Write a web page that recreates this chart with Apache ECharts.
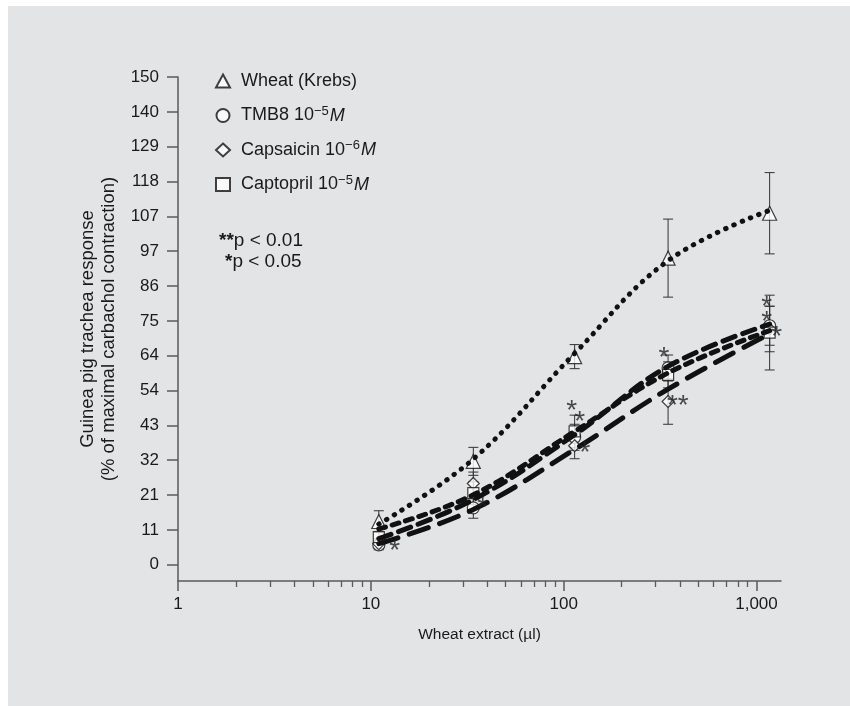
<!DOCTYPE html>
<html>
<head>
<meta charset="utf-8">
<script src="https://cdn.jsdelivr.net/npm/echarts@6/dist/echarts.min.js"></script>
<style>
html, body { margin: 0; padding: 0; background: #fff; }
#panel { position: absolute; left: 8px; top: 6px; width: 842px; height: 700px; background: #e3e4e6; }
#chart { position: absolute; left: 0; top: 0; width: 850px; height: 706px; }
</style>
</head>
<body>
<div id="panel"></div>
<div id="chart"></div>
<script>
// wheat extract doses (µl)
var doses = [11, 34, 114, 348, 1170];

var wheatMean = [13.3, 31.8, 64, 94.3, 108.1];
var wheatErr = [3.3, 4.3, 3.7, 12, 12.5];
var wheatFit = [12.5, 32.5, 65, 93.5, 109];

var tmbMean = [6.1, 17.5, 39.2, 60.5, 73.5];
var tmbErr = [1.5, 3.2, 4, 4, 6];
var tmbFit = [8, 20, 40, 61, 74];

var capsMean = [6.5, 25, 36.6, 50.2, 72.5];
var capsErr = [1.5, 3.5, 4, 7, 7];
var capsFit = [6.5, 17, 35.5, 54, 71];

var captMean = [8.5, 22, 41, 58.4, 71.4];
var captErr = [1.5, 3.5, 5, 4, 11.5];
var captFit = [11, 21.5, 41, 59, 72];

// significance marks
var starX = [13.3, 38, 110, 121, 129, 331, 391, 1130, 1130, 1274];
var starY = [6.8, 20.2, 49.9, 46.6, 37.2, 66.3, 51.5, 82, 77.4, 72.7];
var starText = ['*', '*', '*', '*', '*', '*', '**', '*', '*', '*'];

var xTickValues = [1, 10, 100, 1000];
var xTickLabels = ['1', '10', '100', '1,000'];
var xMinorTicks = [2, 3, 4, 5, 6, 7, 8, 9, 20, 30, 40, 50, 60, 70, 80, 90,
    200, 300, 400, 500, 600, 700, 800, 900];
var yTickLabels = ['0', '11', '21', '32', '43', '54', '64', '75', '86', '97',
    '107', '118', '129', '140', '150'];
var yTickValues = yTickLabels.map(function (l, i) { return i * 150 / 14; });

var legendText = {
    'Wheat (Krebs)': 'Wheat (Krebs)',
    'TMB8': 'TMB8 10{sup|\u22125}{it|M}',
    'Capsaicin': 'Capsaicin 10{sup|\u22126}{it|M}',
    'Captopril': 'Captopril 10{sup|\u22125}{it|M}'
};

var font = '"Liberation Sans", Arial, sans-serif';
var ink = '#1a1a1a';

function pairs(ys) {
    return doses.map(function (d, i) { return [d, ys[i]]; });
}

function errorBars(name, means, errs) {
    return {
        type: 'custom',
        name: name,
        z: 1,
        renderItem: function (params, api) {
            var x = api.value(0), m = api.value(1), e = api.value(2);
            var top = api.coord([x, m + e]);
            var bot = api.coord([x, m - e]);
            var hw = 5;
            var st = { stroke: '#333', lineWidth: 1 };
            return {
                type: 'group',
                children: [
                    { type: 'line', shape: { x1: top[0], y1: top[1], x2: bot[0], y2: bot[1] }, style: st },
                    { type: 'line', shape: { x1: top[0] - hw, y1: top[1], x2: top[0] + hw, y2: top[1] }, style: st },
                    { type: 'line', shape: { x1: bot[0] - hw, y1: bot[1], x2: bot[0] + hw, y2: bot[1] }, style: st }
                ]
            };
        },
        encode: { x: 0, y: 1 },
        data: doses.map(function (d, i) { return [d, means[i], errs[i]]; })
    };
}

function marks(name, symbol, size, means) {
    return {
        type: 'scatter',
        name: name,
        symbol: symbol,
        symbolSize: size,
        z: 2,
        itemStyle: { color: '#fff', borderColor: '#111', borderWidth: 1.2 },
        data: pairs(means)
    };
}

function fit(name, ys, dash) {
    return {
        type: 'line',
        name: name,
        smooth: 0.4,
        symbol: 'none',
        z: 3,
        lineStyle: { color: '#111', width: 5, type: dash, cap: 'round' },
        data: pairs(ys)
    };
}

var myChart = echarts.init(document.getElementById('chart'));

var option = {
    animation: false,
    textStyle: { fontFamily: font },
    grid: { left: 178, right: 69, top: 77, bottom: 125 },
    legend: {
        orient: 'vertical',
        left: 210,
        top: 67,
        itemWidth: 14,
        itemHeight: 13,
        itemGap: 14.5,
        data: [
            { name: 'Wheat (Krebs)', icon: 'triangle' },
            { name: 'TMB8', icon: 'circle' },
            { name: 'Capsaicin', icon: 'diamond' },
            { name: 'Captopril', icon: 'rect' }
        ],
        formatter: function (name) { return legendText[name]; },
        textStyle: {
            fontFamily: font, fontSize: 18, color: ink,
            padding: [0, 0, 0, 6],
            rich: {
                sup: { fontFamily: font, fontSize: 13, color: ink, padding: [0, 1, 9, 0] },
                it: { fontFamily: font, fontSize: 18, color: ink, fontStyle: 'italic' }
            }
        }
    },
    graphic: [
        {
            type: 'text', left: 219, top: 231,
            style: {
                text: '{s|**}p < 0.01', fill: ink, font: '19px ' + font,
                rich: { s: { fontSize: 19, fontWeight: 'bold', fill: ink, fontFamily: font } }
            }
        },
        {
            type: 'text', left: 225, top: 252,
            style: {
                text: '{s|*}p < 0.05', fill: ink, font: '19px ' + font,
                rich: { s: { fontSize: 19, fontWeight: 'bold', fill: ink, fontFamily: font } }
            }
        }
    ],
    xAxis: [
        {
            type: 'log',
            logBase: 10,
            min: 1,
            max: 1340,
            name: 'Wheat extract (\u00b5l)',
            nameLocation: 'middle',
            nameGap: 46,
            nameTextStyle: { fontFamily: font, fontSize: 15.5, color: ink },
            axisLine: { onZero: false, lineStyle: { color: '#5a5a5a', width: 1.5 } },
            axisTick: { customValues: xTickValues, length: 10, lineStyle: { color: '#5a5a5a', width: 1.5 } },
            axisLabel: {
                customValues: xTickValues,
                margin: 15,
                fontFamily: font, fontSize: 17, color: ink,
                formatter: function (v) { return xTickLabels[xTickValues.indexOf(Math.round(v))]; }
            },
            splitLine: { show: false }
        },
        {
            type: 'log',
            logBase: 10,
            min: 1,
            max: 1340,
            position: 'bottom',
            axisLine: { show: false, onZero: false },
            axisTick: { customValues: xMinorTicks, length: 6, lineStyle: { color: '#5a5a5a', width: 1.3 } },
            axisLabel: { show: false },
            splitLine: { show: false }
        }
    ],
    yAxis: {
        type: 'value',
        min: -5,
        max: 150,
        axisLine: { show: true, onZero: false, lineStyle: { color: '#5a5a5a', width: 1.5 } },
        axisTick: { show: true, customValues: yTickValues, length: 11, lineStyle: { color: '#5a5a5a', width: 1.5 } },
        axisLabel: {
            customValues: yTickValues,
            margin: 19,
            fontFamily: font, fontSize: 17, color: ink,
            formatter: function (v) { return yTickLabels[Math.round(v * 14 / 150)]; }
        },
        splitLine: { show: false },
        name: 'Guinea pig trachea response\n(% of maximal carbachol contraction)',
        nameLocation: 'middle',
        nameGap: 54,
        nameTextStyle: { fontFamily: font, fontSize: 18.5, color: ink, lineHeight: 21 }
    },
    series: [
        errorBars('errWheat', wheatMean, wheatErr),
        errorBars('errTmb', tmbMean, tmbErr),
        errorBars('errCaps', capsMean, capsErr),
        errorBars('errCapt', captMean, captErr),
        marks('Wheat (Krebs)', 'triangle', 14, wheatMean),
        marks('TMB8', 'circle', 12, tmbMean),
        marks('Capsaicin', 'diamond', 12, capsMean),
        marks('Captopril', 'rect', 11, captMean),
        fit('fitWheat', wheatFit, [0.5, 8.5]),
        fit('fitTmb', tmbFit, [13, 8]),
        fit('fitCaps', capsFit, [20, 12]),
        fit('fitCapt', captFit, [7, 7]),
        {
            type: 'scatter',
            name: 'stars',
            symbolSize: 0,
            z: 4,
            label: {
                show: true,
                position: 'inside',
                offset: [0, 9],
                fontFamily: font,
                fontSize: 28,
                color: '#222',
                formatter: function (p) { return starText[p.dataIndex]; }
            },
            data: starX.map(function (x, i) { return [x, starY[i]]; })
        }
    ]
};

myChart.setOption(option);
</script>
</body>
</html>
